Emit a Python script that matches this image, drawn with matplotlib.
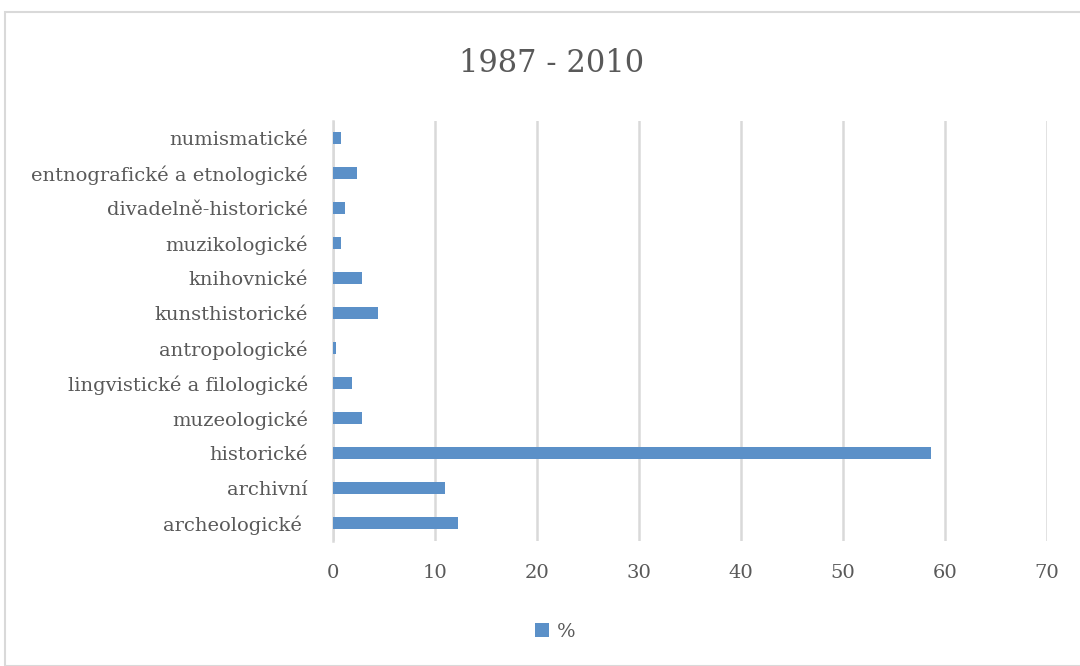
import matplotlib
matplotlib.use("Agg")
import matplotlib.pyplot as plt
from matplotlib.patches import Rectangle

categories = ["archeologické ", "archivní", "historické", "muzeologické",
              "lingvistické a filologické", "antropologické", "kunsthistorické",
              "knihovnické", "muzikologické", "divadelně-historické",
              "entnografické a etnologické", "numismatické"]
values = [12.3, 11.0, 58.6, 2.8, 1.9, 0.3, 4.4, 2.8, 0.8, 1.2, 2.4, 0.8]
xticks = [0, 10, 20, 30, 40, 50, 60, 70]
title = "1987 - 2010"
series_name = "%"

plt.rcParams['font.family'] = ['DejaVu Serif']
text_color = '#595959'
grid_color = '#d9d9d9'
bar_color = '#5B90C8'

fig = plt.figure(figsize=(10.8, 6.66), dpi=100)
fig.patches.append(Rectangle((5/1080, 0), 1.0, 1 - 12/666, transform=fig.transFigure,
                             fill=False, edgecolor=grid_color, linewidth=1.5))
ax = fig.add_axes([333/1080, 1 - 540.5/666, (1047 - 333)/1080, (540.5 - 120.5)/666])

y = list(range(len(categories)))
ax.barh(y, values, height=0.37, color=bar_color, label=series_name, zorder=3)
ax.set_xlim(0, 70)
ax.set_ylim(-0.5, len(categories) - 0.5)
ax.set_xticks(xticks)
ax.set_xticklabels([str(t) for t in xticks])
ax.set_yticks(y)
ax.set_yticklabels(categories)
ax.grid(axis='x', color=grid_color, linewidth=1.8, zorder=0)
for s in ['top', 'right', 'bottom']:
    ax.spines[s].set_visible(False)
ax.spines['left'].set_color(grid_color)
ax.spines['left'].set_linewidth(1.8)
ax.tick_params(axis='both', length=0, colors=text_color, labelsize=14)
ax.tick_params(axis='y', pad=18)
ax.tick_params(axis='x', pad=17)

fig.text(552/1080, 1 - 63/666, title, ha='center', va='center', fontsize=22, color=text_color)

leg = fig.legend(loc='center', bbox_to_anchor=(555/1080, 1 - 632/666), frameon=False,
                 fontsize=14, handlelength=0.7, handleheight=0.7, handletextpad=0.4,
                 labelcolor=text_color)

fig.savefig("out.png", dpi=100)
